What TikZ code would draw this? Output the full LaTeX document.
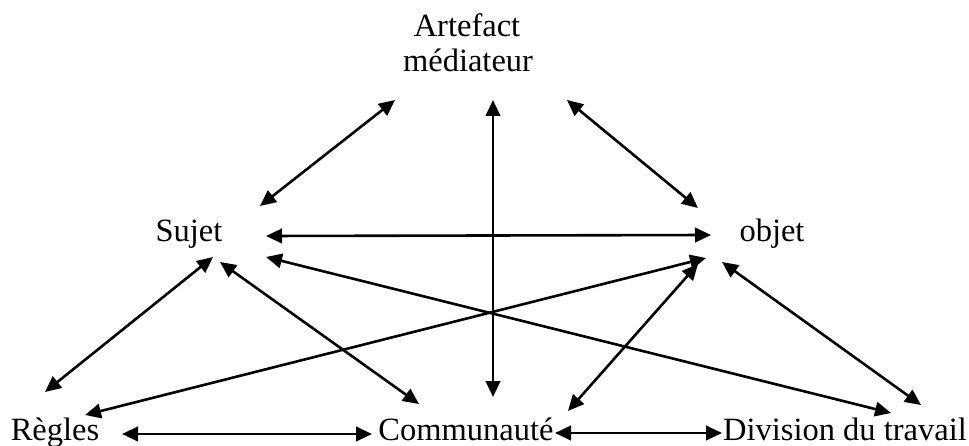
\documentclass[tikz,border=0pt]{standalone}
\usepackage{fontspec}
\setmainfont{Liberation Serif}
\usetikzlibrary{arrows.meta}
\begin{document}
\begin{tikzpicture}[x=1pt,y=-1pt,
  lbl/.style={anchor=base, inner sep=0pt, font=\fontsize{32.5}{35}\selectfont},
  dbl/.style={{Triangle[length=16pt,width=14.5pt]}-{Triangle[length=16pt,width=14.5pt]}, line width=2.6pt}]
\useasboundingbox (0,0) rectangle (969,446);
% labels
\node[lbl] (art) at (467,37) {Artefact};
\node[lbl] (med) at (468,72) {médiateur};
\node[lbl] (suj) at (189,242) {Sujet};
\node[lbl] (obj) at (772,242) {objet};
\node[lbl] (reg) at (55,440) {Règles};
\node[lbl] (com) at (466,440) {Communauté};
\node[lbl] (div) at (845,440) {Division du travail};
% arrow end points
\coordinate (sA) at (260,206);  \coordinate (aS) at (395,100);
\coordinate (aO) at (567,100);  \coordinate (oA) at (698,208);
\coordinate (aC) at (493,100);  \coordinate (cA) at (493,397);
\coordinate (sO) at (266,236);  \coordinate (oS) at (711,235);
\coordinate (sD) at (266,257);  \coordinate (dS) at (891,413);
\coordinate (oR) at (706,258);  \coordinate (rO) at (85,415);
\coordinate (sR) at (213,257);  \coordinate (rS) at (45,392);
\coordinate (sC) at (220,262);  \coordinate (cS) at (419,404);
\coordinate (oC) at (698,264);  \coordinate (cO) at (568,411);
\coordinate (oD) at (722,262);  \coordinate (dO) at (921,405);
\coordinate (rC) at (122,434);  \coordinate (cR) at (372,434);
\coordinate (cD) at (555,433);  \coordinate (dC) at (722,433);
% connectors
\draw[dbl] (sA) -- (aS);
\draw[dbl] (aO) -- (oA);
\draw[dbl] (aC) -- (cA);
\draw[dbl] (sO) -- (oS);
\draw[dbl] (sD) -- (dS);
\draw[dbl] (oR) -- (rO);
\draw[dbl] (sR) -- (rS);
\draw[dbl] (sC) -- (cS);
\draw[dbl] (oC) -- (cO);
\draw[dbl] (oD) -- (dO);
\draw[dbl] (rC) -- (cR);
\draw[dbl] (cD) -- (dC);
\end{tikzpicture}
\end{document}
